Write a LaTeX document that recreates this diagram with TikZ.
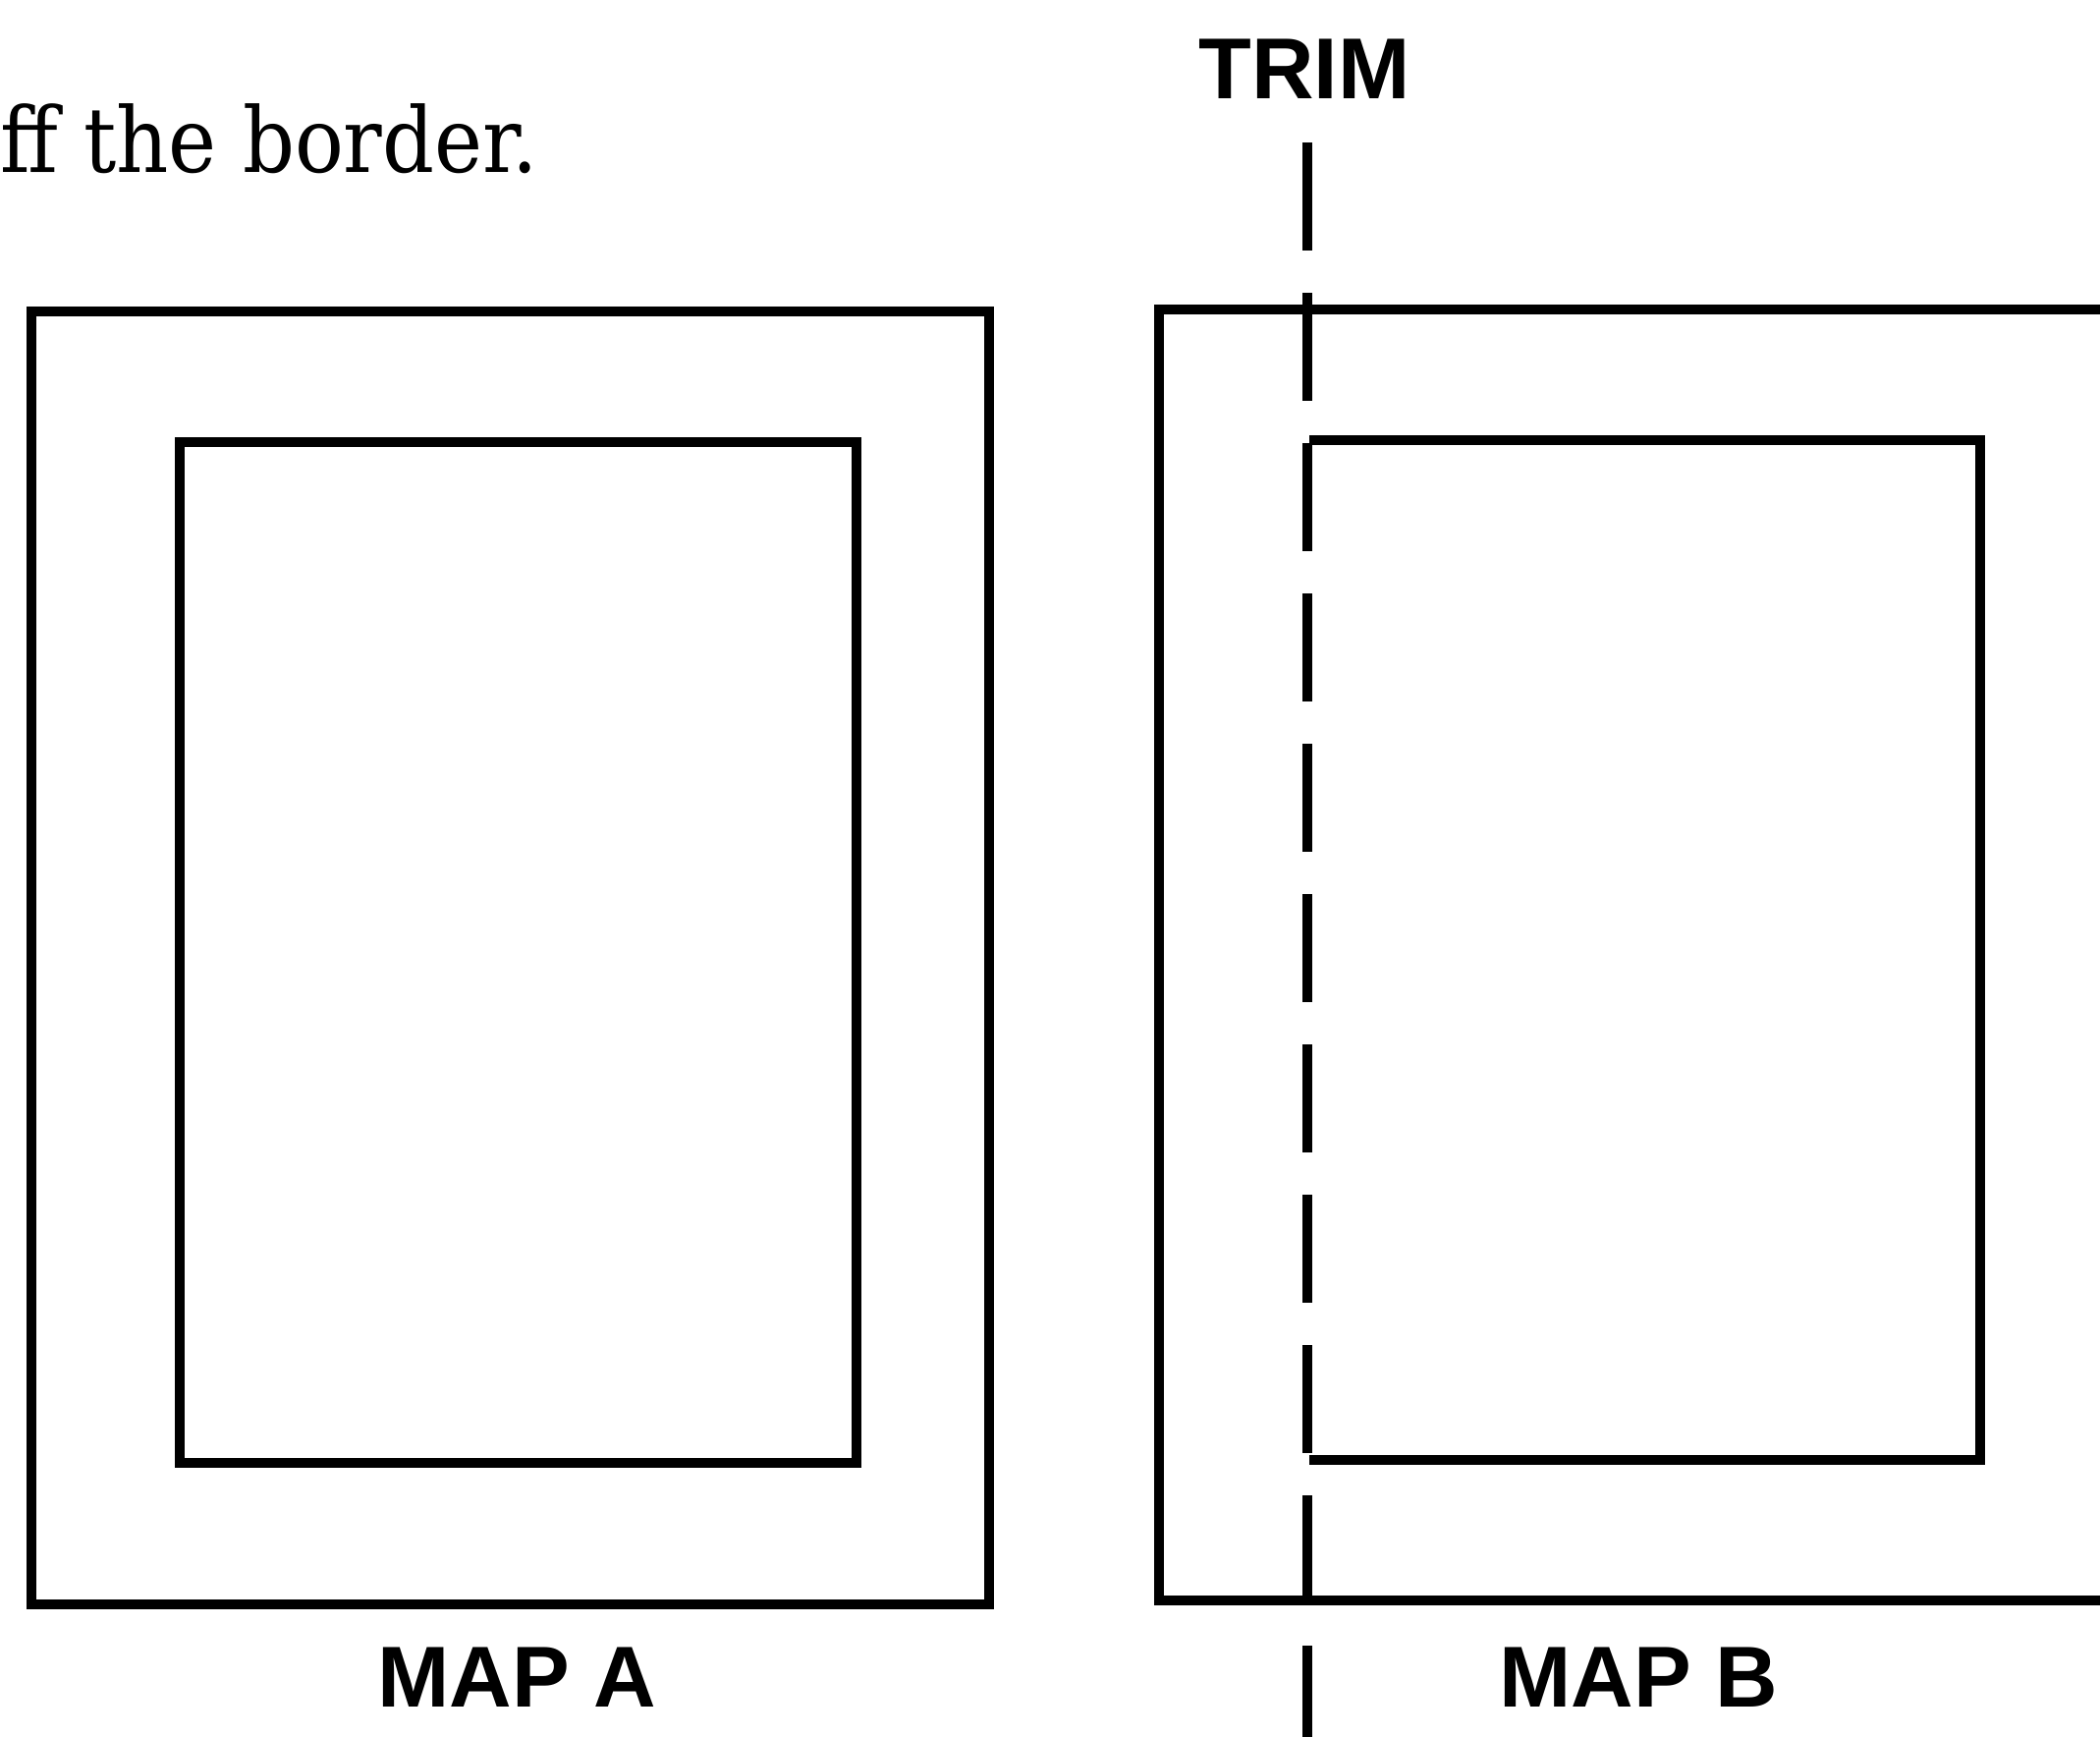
\documentclass[tikz,border=0pt]{standalone}
\usepackage{fontspec}
\newfontfamily\capfont{Liberation Sans}
\newfontfamily\bodyfont{DejaVu Serif Condensed}
\begin{document}
\begin{tikzpicture}[x=0.25pt,y=-0.25pt,
  frame/.style={line width=2.7pt, line join=miter},
  trimline/.style={line width=2.5pt, dash pattern=on 27.5pt off 10.75pt},
  maplabel/.style={inner sep=0pt, font=\capfont\bfseries\fontsize{22pt}{24pt}\selectfont},
  bodytext/.style={inner sep=0pt, font=\bodyfont\fontsize{23pt}{26pt}\selectfont}]
\useasboundingbox (0,0) rectangle (2138,1767);
\begin{scope}
\clip (0,0) rectangle (2138,1767);

% running text above the maps
\node[bodytext, anchor=base east] (caption) at (548,175) {ff the border.};

% map A: sheet and printed area
\draw[frame] (32,317) rectangle (1007,1633);
\draw[frame] (183,450) rectangle (872,1489);
\node[maplabel] (mapA) at (526,1707) {MAP A};

% map B: sheet runs off to the right, printed area open on the trim side
\draw[frame] (2200,315) -- (1180,315) -- (1180,1629) -- (2200,1629);
\draw[frame] (1333,448) -- (2016,448) -- (2016,1486) -- (1333,1486);
\node[maplabel] (mapB) at (1668,1707) {MAP B};

% trim line
\node[maplabel] (trim) at (1328,70) {TRIM};
\coordinate (trimTop) at (1331,145);
\coordinate (trimEnd) at (1331,1800);
\draw[trimline] (trimTop) -- (trimEnd);
\end{scope}
\end{tikzpicture}
\end{document}
